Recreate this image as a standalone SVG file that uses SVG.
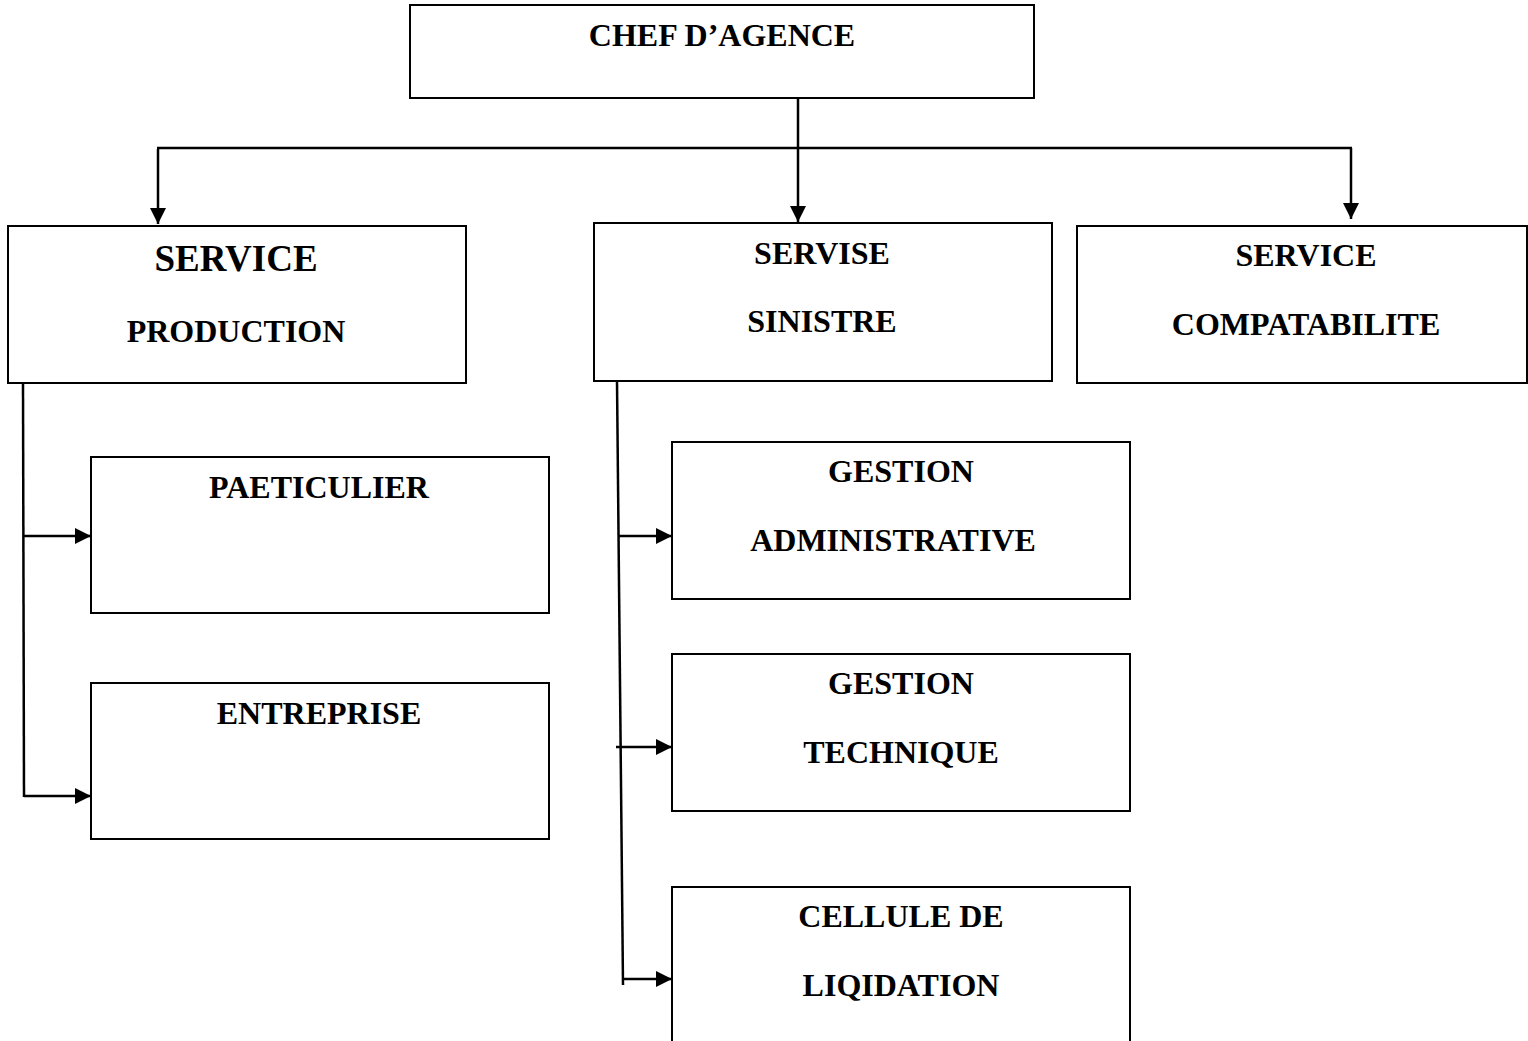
<svg xmlns="http://www.w3.org/2000/svg" width="1528" height="1041" viewBox="0 0 1528 1041">
<style>
.box{fill:#fff;stroke:#000;stroke-width:2}
.t{font-family:"Liberation Serif","Times New Roman",serif;font-weight:bold;font-size:32px;text-anchor:middle;fill:#000}
.big{font-size:37px}
.c{stroke:#000;stroke-width:2.5;fill:none}
</style>
<defs>
<marker id="ah" markerUnits="userSpaceOnUse" markerWidth="18" markerHeight="18" refX="16" refY="8" orient="auto">
<path d="M0,0 L16,8 L0,16 Z" fill="#000"/>
</marker>
</defs>
<rect width="1528" height="1041" fill="#fff"/>
<g id="connectors">
<line class="c" x1="798" y1="98" x2="798" y2="222" marker-end="url(#ah)"/>
<line class="c" x1="157" y1="148" x2="1352" y2="148"/>
<line class="c" x1="158" y1="149" x2="158" y2="224" marker-end="url(#ah)"/>
<line class="c" x1="1351" y1="148" x2="1351" y2="219" marker-end="url(#ah)"/>
<line class="c" x1="23" y1="383" x2="24" y2="797"/>
<line class="c" x1="23" y1="536" x2="91" y2="536" marker-end="url(#ah)"/>
<line class="c" x1="24" y1="796" x2="91" y2="796" marker-end="url(#ah)"/>
<line class="c" x1="617" y1="381" x2="623" y2="985"/>
<line class="c" x1="618" y1="536" x2="672" y2="536" marker-end="url(#ah)"/>
<line class="c" x1="616" y1="747" x2="672" y2="747" marker-end="url(#ah)"/>
<line class="c" x1="623" y1="979" x2="672" y2="979" marker-end="url(#ah)"/>
</g>
<g id="chef">
<rect class="box" x="410" y="5" width="624" height="93"/>
<text class="t" x="722" y="46">CHEF D’AGENCE</text>
</g>
<g id="production">
<rect class="box" x="8" y="226" width="458" height="157"/>
<text class="t big" x="236" y="271">SERVICE</text>
<text class="t" x="236" y="342">PRODUCTION</text>
</g>
<g id="sinistre">
<rect class="box" x="594" y="223" width="458" height="158"/>
<text class="t" x="822" y="264">SERVISE</text>
<text class="t" x="822" y="332">SINISTRE</text>
</g>
<g id="comptabilite">
<rect class="box" x="1077" y="226" width="450" height="157"/>
<text class="t" x="1306" y="266">SERVICE</text>
<text class="t" x="1306" y="335">COMPATABILITE</text>
</g>
<g id="particulier">
<rect class="box" x="91" y="457" width="458" height="156"/>
<text class="t" x="319" y="498">PAETICULIER</text>
</g>
<g id="entreprise">
<rect class="box" x="91" y="683" width="458" height="156"/>
<text class="t" x="319" y="724">ENTREPRISE</text>
</g>
<g id="gestion-admin">
<rect class="box" x="672" y="442" width="458" height="157"/>
<text class="t" x="901" y="482">GESTION</text>
<text class="t" x="893" y="551">ADMINISTRATIVE</text>
</g>
<g id="gestion-tech">
<rect class="box" x="672" y="654" width="458" height="157"/>
<text class="t" x="901" y="694">GESTION</text>
<text class="t" x="901" y="763">TECHNIQUE</text>
</g>
<g id="cellule">
<rect class="box" x="672" y="887" width="458" height="170"/>
<text class="t" x="901" y="927">CELLULE DE</text>
<text class="t" x="901" y="996">LIQIDATION</text>
</g>
</svg>
